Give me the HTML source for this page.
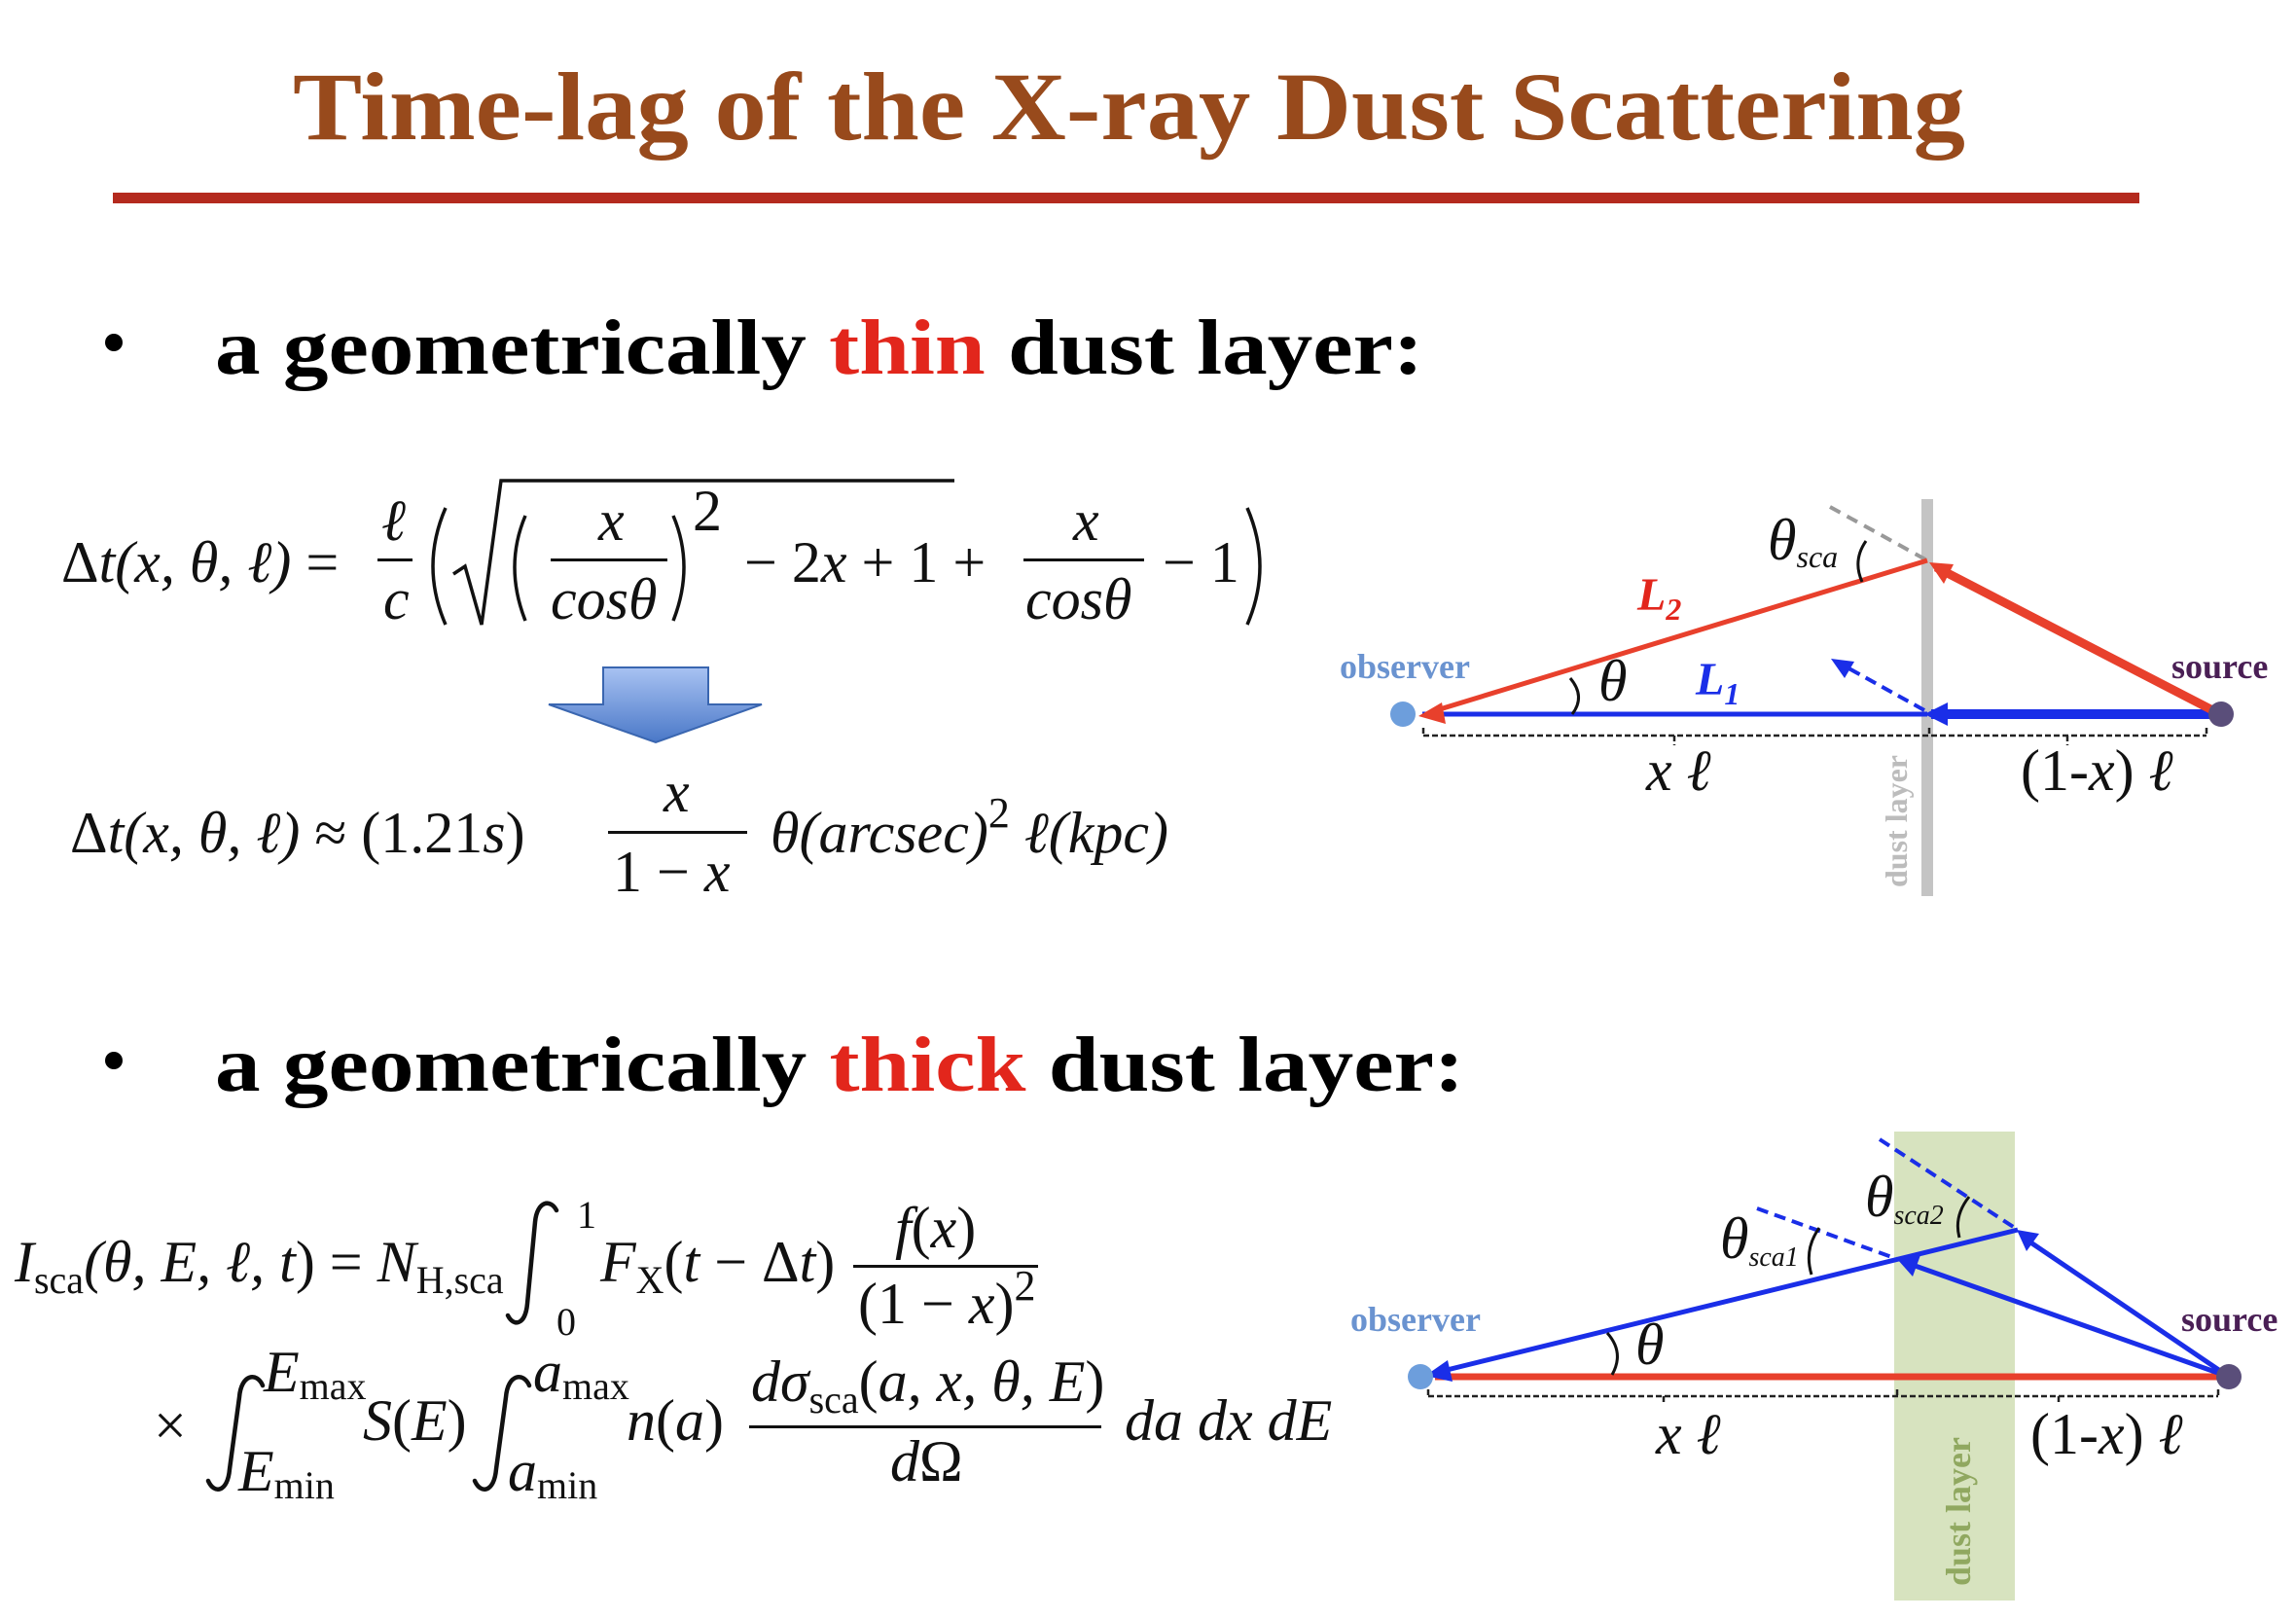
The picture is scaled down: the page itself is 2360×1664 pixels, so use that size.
<!DOCTYPE html>
<html><head><meta charset="utf-8"><style>
html,body{margin:0;padding:0;background:#fff;}
svg{display:block;}
text{font-family:"Liberation Serif",serif;}
.m{font-style:italic;font-size:60px;fill:#111;}
.r{font-style:normal;}
.s{font-size:40px;}
.p{fill:none;stroke:#111;stroke-width:3.5;}
.i{fill:none;stroke:#111;stroke-width:4.5;stroke-linecap:round;}
</style></head><body>
<svg width="2360" height="1664" viewBox="0 0 2360 1664">
<defs>
<linearGradient id="ag" x1="0" y1="0" x2="0" y2="1"><stop offset="0" stop-color="#a8c2f2"/><stop offset="1" stop-color="#4a78c8"/></linearGradient>
</defs>

<text x="301" y="143" font-size="100" font-weight="bold" fill="#984a1c" textLength="1719" lengthAdjust="spacingAndGlyphs">Time-lag of the X-ray Dust Scattering</text>
<rect x="116" y="198" width="2083" height="11" fill="#b42a1e"/>

<g>
<circle cx="117" cy="352" r="9" fill="#000"/>
<text x="221" y="384" font-size="80" font-weight="bold" fill="#000" textLength="1242" lengthAdjust="spacingAndGlyphs">a geometrically <tspan fill="#e2261c">thin</tspan> dust layer:</text>
</g>

<g>
<text x="63" y="598" class="m"><tspan class="r">Δ</tspan>t(x, θ, ℓ) <tspan class="r">=</tspan></text>
<text x="392" y="555" class="m">ℓ</text>
<rect x="388" y="574" width="36" height="3" fill="#111"/>
<text x="394" y="636" class="m">c</text>
<path class="p" d="M458,522 Q432,582 458,642"/>
<path d="M466,590 L478,582 L495,642 L515,494 L981,494" fill="none" stroke="#111" stroke-width="3.5"/>
<path class="p" d="M540,530 Q518,582 540,638"/>
<text x="615" y="555" class="m">x</text>
<rect x="566" y="574" width="120" height="3" fill="#111"/>
<text x="566" y="636" class="m">cosθ</text>
<path class="p" d="M692,530 Q714,582 692,638"/>
<text x="712" y="545" class="m r" font-size="44">2</text>
<text x="765" y="598" class="m"><tspan class="r">− 2</tspan>x <tspan class="r">+ 1 +</tspan></text>
<text x="1103" y="555" class="m">x</text>
<rect x="1052" y="574" width="124" height="3" fill="#111"/>
<text x="1054" y="636" class="m">cosθ</text>
<text x="1195" y="598" class="m r">− 1</text>
<path class="p" d="M1282,522 Q1308,582 1282,642"/>
</g>

<polygon points="620,686 728,686 728,724 783,724 674,763 564,724 620,724" fill="url(#ag)" stroke="#3a66b0" stroke-width="2"/>

<g>
<text x="72" y="876" class="m"><tspan class="r">Δ</tspan>t(x, θ, ℓ) <tspan class="r">≈ (1.21</tspan>s<tspan class="r">)</tspan></text>
<text x="682" y="834" class="m">x</text>
<rect x="625" y="854" width="143" height="3" fill="#111"/>
<text x="630" y="916" class="m"><tspan class="r">1 − </tspan>x</text>
<text x="792" y="876" class="m">θ(arcsec)<tspan class="r" font-size="44" dy="-26">2</tspan><tspan dy="26"> ℓ(kpc)</tspan></text>
</g>

<g>
<circle cx="117" cy="1090" r="9" fill="#000"/>
<text x="221" y="1121" font-size="80" font-weight="bold" fill="#000" textLength="1284" lengthAdjust="spacingAndGlyphs">a geometrically <tspan fill="#e2261c">thick</tspan> dust layer:</text>
</g>

<g>
<text x="15" y="1317" class="m">I<tspan class="r s" dy="12">sca</tspan><tspan dy="-12">(θ, </tspan>E, ℓ, t<tspan class="r">) = </tspan>N<tspan class="r s" dy="12">H,sca</tspan></text>
<path class="i" d="M572,1244 C566,1232 552,1234 550,1256 L542,1340 C540,1362 528,1364 522,1352"/>
<text x="593" y="1262" class="m r s">1</text>
<text x="572" y="1372" class="m r s">0</text>
<text x="617" y="1317" class="m">F<tspan class="r s" dy="12">X</tspan><tspan dy="-12" class="r">(</tspan>t <tspan class="r">− Δ</tspan>t<tspan class="r">)</tspan></text>
<text x="920" y="1282" class="m">f<tspan class="r">(</tspan>x<tspan class="r">)</tspan></text>
<rect x="877" y="1300" width="190" height="3" fill="#111"/>
<text x="882" y="1360" class="m"><tspan class="r">(1 − </tspan>x<tspan class="r">)</tspan><tspan class="r" font-size="44" dy="-24">2</tspan></text>

<text x="158" y="1485" class="m r">×</text>
<path class="i" d="M270,1424 C264,1410 248,1412 246,1436 L236,1510 C234,1534 220,1536 214,1522"/>
<text x="271" y="1430" class="m" font-size="48">E<tspan class="r s" dy="8">max</tspan></text>
<text x="245" y="1532" class="m" font-size="48">E<tspan class="r s" dy="8">min</tspan></text>
<text x="373" y="1480" class="m">S<tspan class="r">(</tspan>E<tspan class="r">)</tspan></text>
<path class="i" d="M544,1424 C538,1410 522,1412 520,1436 L510,1510 C508,1534 494,1536 488,1522"/>
<text x="548" y="1430" class="m" font-size="48">a<tspan class="r s" dy="8">max</tspan></text>
<text x="522" y="1532" class="m" font-size="48">a<tspan class="r s" dy="8">min</tspan></text>
<text x="644" y="1480" class="m">n<tspan class="r">(</tspan>a<tspan class="r">)</tspan></text>
<text x="772" y="1440" class="m">dσ<tspan class="r s" dy="12">sca</tspan><tspan class="r" dy="-12">(</tspan>a, x, θ, E<tspan class="r">)</tspan></text>
<rect x="770" y="1465" width="362" height="3" fill="#111"/>
<text x="915" y="1522" class="m">d<tspan class="r">Ω</tspan></text>
<text x="1156" y="1480" class="m">da dx dE</text>
</g>

<!-- Diagram 1 -->
<g>
<rect x="1975" y="513" width="12" height="408" fill="#c4c4c4"/>
<text x="1960" y="912" font-size="32" font-weight="bold" fill="#bcbcbc" transform="rotate(-90 1960 912)">dust layer</text>
<path d="M1881,521 L1981,576" stroke="#999" stroke-width="4" stroke-dasharray="12,8" fill="none"/>
<path d="M1463,756 L2268,756 M1463,748 V756 M2268,748 V756 M1721,756 V766 M2125,756 V766 M1983,748 V756" stroke="#222" stroke-width="2.5" stroke-dasharray="6,3" fill="none"/>
<line x1="2282" y1="734" x2="1985" y2="734" stroke="#1a2ee8" stroke-width="10"/>
<polygon points="1978,734 2002,722 2002,746" fill="#1a2ee8"/>
<line x1="1981" y1="734" x2="1462" y2="734" stroke="#1a2ee8" stroke-width="5"/>
<line x1="2282" y1="734" x2="1990" y2="583" stroke="#e8402c" stroke-width="9"/>
<polygon points="1983,578 2008,580 1998,600" fill="#e8402c"/>
<line x1="1981" y1="576" x2="1470" y2="732" stroke="#e8402c" stroke-width="5"/>
<polygon points="1458,736 1482,722 1486,744" fill="#e8402c"/>
<line x1="1978" y1="730" x2="1895" y2="684" stroke="#1a2ee8" stroke-width="4" stroke-dasharray="12,7"/>
<polygon points="1882,677 1906,680 1896,697" fill="#1a2ee8"/>
<circle cx="1442" cy="734" r="13" fill="#6d9edc"/>
<circle cx="2283" cy="734" r="13" fill="#5a4e7a"/>
<path d="M1614,697 Q1630,716 1616,734" stroke="#111" stroke-width="3" fill="none"/>
<path d="M1918,556 Q1904,576 1914,598" stroke="#111" stroke-width="3" fill="none"/>
<text x="1377" y="697" font-size="36" font-weight="bold" fill="#6a93d0">observer</text>
<text x="2232" y="697" font-size="36" font-weight="bold" fill="#4a1f55">source</text>
<text x="1643" y="720" class="m" font-size="48">θ</text>
<text x="1817" y="575" class="m" font-size="48">θ<tspan font-size="32" dy="8">sca</tspan></text>
<text x="1683" y="627" font-style="italic" font-size="48" font-weight="bold" style="fill:#e2261c">L<tspan font-size="32" dy="10">2</tspan></text>
<text x="1743" y="714" font-style="italic" font-size="48" font-weight="bold" style="fill:#1a2ee8">L<tspan font-size="32" dy="10">1</tspan></text>
<text x="1692" y="812" class="m" font-size="34">x ℓ</text>
<text x="2077" y="812" class="m" font-size="34"><tspan class="r">(1-</tspan>x<tspan class="r">)</tspan> ℓ</text>
</g>

<!-- Diagram 2 -->
<g>
<rect x="1947" y="1163" width="124" height="482" fill="#d7e3bf"/>
<text x="2025" y="1630" font-size="36" font-weight="bold" fill="#90a860" transform="rotate(-90 2025 1630)">dust layer</text>
<path d="M1468,1435 L2280,1435 M1468,1428 V1435 M2280,1428 V1435 M1710,1435 V1444 M2116,1435 V1444 M1950,1428 V1435" stroke="#222" stroke-width="2.5" stroke-dasharray="6,3" fill="none"/>
<line x1="2291" y1="1415" x2="1475" y2="1415" stroke="#e8402c" stroke-width="7"/>
<line x1="1806" y1="1242" x2="1950" y2="1294" stroke="#1a2ee8" stroke-width="4" stroke-dasharray="12,7"/>
<line x1="1932" y1="1171" x2="2074" y2="1264" stroke="#1a2ee8" stroke-width="4" stroke-dasharray="12,7"/>
<line x1="2074" y1="1264" x2="1475" y2="1411" stroke="#1a2ee8" stroke-width="5"/>
<polygon points="1465,1414 1488,1398 1493,1420" fill="#1a2ee8"/>
<line x1="2291" y1="1415" x2="1960" y2="1298" stroke="#1a2ee8" stroke-width="5"/>
<polygon points="1950,1294 1974,1290 1966,1312" fill="#1a2ee8"/>
<line x1="2291" y1="1415" x2="2080" y2="1272" stroke="#1a2ee8" stroke-width="5"/>
<polygon points="2073,1264 2096,1268 2083,1286" fill="#1a2ee8"/>
<circle cx="1460" cy="1415" r="13" fill="#6d9edc"/>
<circle cx="2291" cy="1415" r="13" fill="#5a4e7a"/>
<path d="M1652,1370 Q1670,1390 1657,1413" stroke="#111" stroke-width="3" fill="none"/>
<path d="M1870,1262 Q1854,1284 1862,1310" stroke="#111" stroke-width="3" fill="none"/>
<path d="M2024,1230 Q2008,1250 2014,1272" stroke="#111" stroke-width="3" fill="none"/>
<text x="1388" y="1368" font-size="36" font-weight="bold" fill="#6a93d0">observer</text>
<text x="2242" y="1368" font-size="36" font-weight="bold" fill="#4a1f55">source</text>
<text x="1681" y="1402" class="m" font-size="48">θ</text>
<text x="1768" y="1293" class="m" font-size="46">θ<tspan font-size="28" dy="8">sca1</tspan></text>
<text x="1917" y="1250" class="m" font-size="46">θ<tspan font-size="28" dy="8">sca2</tspan></text>
<text x="1702" y="1494" class="m" font-size="34">x ℓ</text>
<text x="2087" y="1494" class="m" font-size="34"><tspan class="r">(1-</tspan>x<tspan class="r">)</tspan> ℓ</text>
</g>
</svg>
</body></html>
